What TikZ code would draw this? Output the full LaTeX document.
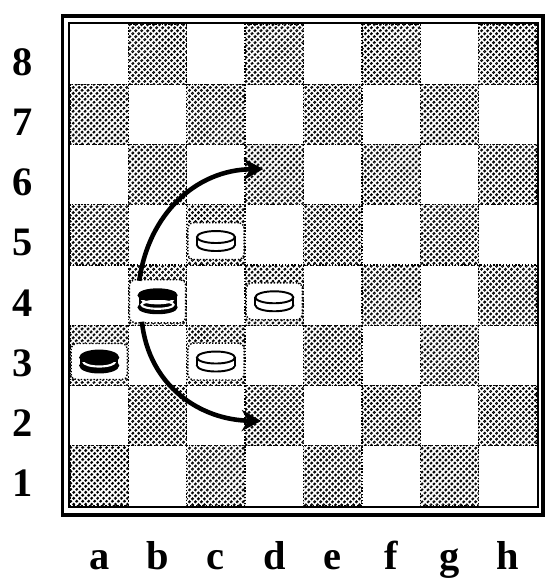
\documentclass[tikz,border=0pt]{standalone}
\usepackage{fontspec}
\setmainfont{Liberation Serif}
\usetikzlibrary{arrows.meta,patterns.meta}

\newcommand*{\bx}{70}
\newcommand*{\by}{24}
\newcommand*{\sqw}{58.375}
\newcommand*{\sqh}{60.25}

\begin{document}
\begin{tikzpicture}
[
	x=0.02cm, y=-0.02cm,
	darksq/.style={pattern={Lines[angle=45,distance=2.4pt,line width=1.25pt]},draw,densely dotted,line width=0.8pt},
	halo/.style={fill=white,draw,densely dotted,line width=0.8pt,rounded corners=3pt,inner sep=0pt,minimum width=32pt,minimum height=21pt},
	piece/.style={line width=1.1pt,solid},
	coordlabel/.style={font=\fontsize{23}{27}\selectfont\bfseries,anchor=base,inner sep=0pt},
	move/.style={line width=2.6pt,-{Stealth[length=11pt,width=12pt,inset=3.5pt]}},
	whiteman/.pic={
		\draw[piece,fill=white] (0,4) ellipse[x radius=19,y radius=6];
		\fill[white] (-19,-4) rectangle (19,4);
		\draw[piece] (-19,-4) -- (-19,4) (19,-4) -- (19,4);
		\draw[piece,fill=white] (0,-4) ellipse[x radius=19,y radius=6];
	},
	blackman/.pic={
		\draw[piece,fill=black] (0,4) ellipse[x radius=19,y radius=7];
		\fill (-19,-4) rectangle (19,4);
		\draw[piece,fill=black] (0,-4) ellipse[x radius=19,y radius=7];
		\begin{scope}
			\clip (-19,1) rectangle (19,14);
			\draw[white,line width=1.2pt] (0,0) ellipse[x radius=16,y radius=5];
		\end{scope}
	},
	blackstack/.pic={
		\draw[piece,fill=black] (0,6) ellipse[x radius=19,y radius=6];
		\fill (-19,-6) rectangle (19,6);
		\draw[piece,fill=black] (0,-6) ellipse[x radius=19,y radius=6];
		\begin{scope}
			\clip (-19,-1) rectangle (19,14);
			\draw[white,line width=1.2pt] (0,-2) ellipse[x radius=16,y radius=4];
			\draw[white,line width=1.2pt] (0,3.5) ellipse[x radius=16,y radius=4];
		\end{scope}
	}
]

	\useasboundingbox (0,0) rectangle (545,578);

	% frame
	\draw[line width=2pt] (62.5,16) rectangle (543,515);
	\draw[line width=0.7pt] (69,23) rectangle (538,507);

	% squares
	\foreach \fl [count=\i from 0] in {a,b,c,d,e,f,g,h} {
		\foreach \rk in {1,...,8} {
			\pgfmathtruncatemacro{\j}{8-\rk}
			\pgfmathtruncatemacro{\odd}{mod(\i+\rk,2)}
			\coordinate (\fl\rk) at ({\bx+(\i+0.5)*\sqw},{\by+(\j+0.5)*\sqh});
			\ifnum\odd=1
				\draw[darksq] ({\bx+\i*\sqw},{\by+\j*\sqh}) rectangle ++(\sqw,\sqh);
			\fi
		}
	}

	% labels
	\foreach \rk in {1,...,8}
		\node[coordlabel] (r\rk) at (23,{\by+(8.5-\rk)*\sqh+21}) {\rk};
	\foreach \fl [count=\i from 0] in {a,b,c,d,e,f,g,h}
		\node[coordlabel] (l\fl) at ({\bx+(\i+0.5)*\sqw},569) {\fl};

	% pieces
	\node[halo,minimum height=20.5pt] (ha3) at ([yshift=-3.5pt]a3) {};
	\node[halo,minimum height=24.5pt] (hb4) at ([yshift=-3.5pt]b4) {};
	\node[halo] (hc5) at ([yshift=-3.5pt]c5) {};
	\node[halo] (hd4) at ([yshift=-3.5pt]d4) {};
	\node[halo] (hc3) at ([yshift=-3.5pt]c3) {};

	\pic at (ha3) {blackman};
	\pic at (hb4) {blackstack};
	\pic at (hc5) {whiteman};
	\pic at (hd4) {whiteman};
	\pic at (hc3) {whiteman};

	% moves
	\draw[move] ([xshift=6pt,yshift=-1pt]hb4.north west) .. controls +(9,-66) and +(-68,1) .. ([xshift=-6.3pt,yshift=3.2pt]d6);
	\draw[move] ([xshift=7.5pt,yshift=1pt]hb4.south west) .. controls +(7,65) and +(-60,-1) .. ([xshift=-7.5pt,yshift=-3pt]d2);

\end{tikzpicture}
\end{document}
